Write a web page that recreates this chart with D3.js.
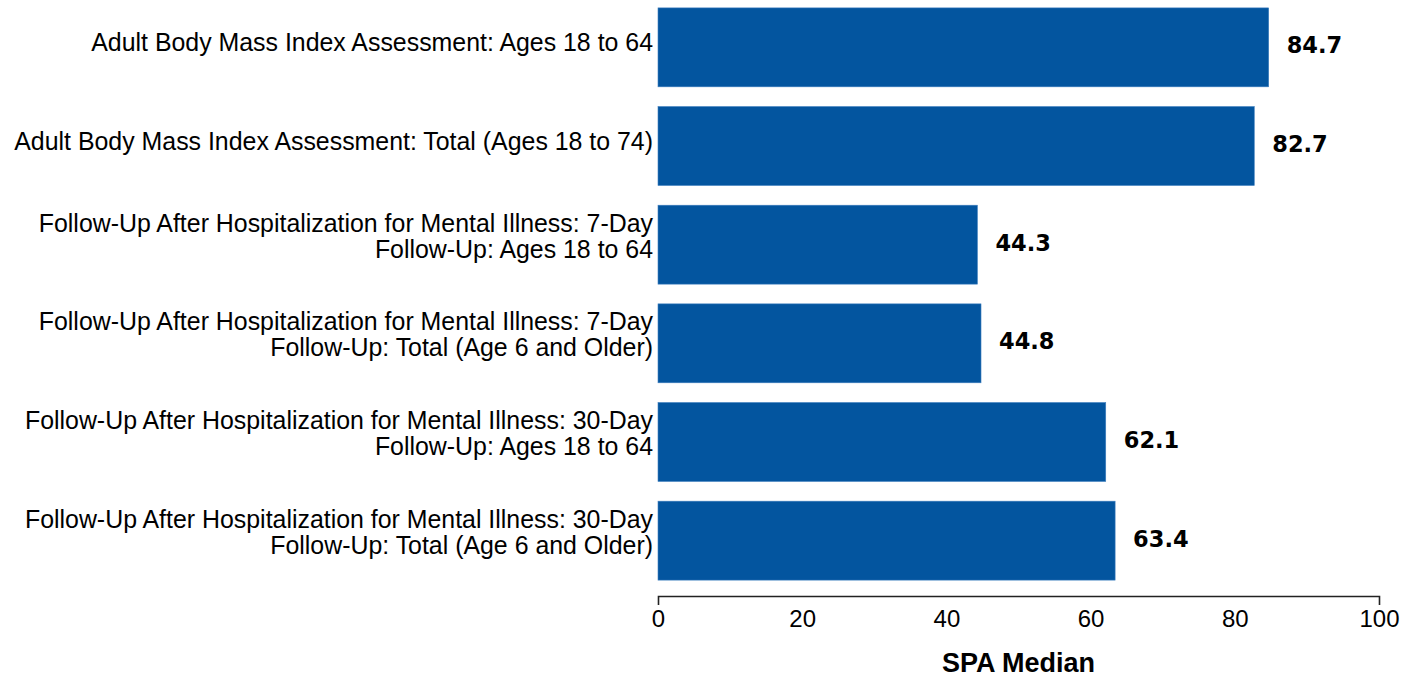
<!DOCTYPE html>
<html>
<head>
<meta charset="utf-8">
<script src="https://cdn.jsdelivr.net/npm/d3@7"></script>
<style>
    body { margin: 0; background: #ffffff; }
</style>
</head>
<body>
<div id="chart"></div>
<script>
// measure names, split in the lines they are drawn on
var measures = [
    ["Adult Body Mass Index Assessment: Ages 18 to 64"],
    ["Adult Body Mass Index Assessment: Total (Ages 18 to 74)"],
    ["Follow-Up After Hospitalization for Mental Illness: 7-Day", "Follow-Up: Ages 18 to 64"],
    ["Follow-Up After Hospitalization for Mental Illness: 7-Day", "Follow-Up: Total (Age 6 and Older)"],
    ["Follow-Up After Hospitalization for Mental Illness: 30-Day", "Follow-Up: Ages 18 to 64"],
    ["Follow-Up After Hospitalization for Mental Illness: 30-Day", "Follow-Up: Total (Age 6 and Older)"]
];
var spaMedian = [84.7, 82.7, 44.3, 44.8, 62.1, 63.4];
var xTicks = [0, 20, 40, 60, 80, 100];
var xTitle = "SPA Median";

(function () {

    var margin = {top: 0, right: 23, bottom: 89, left: 658},
        width = 1402 - margin.left - margin.right,
        height = 677 - margin.top - margin.bottom;

    var data = measures.map(function (m, i) {
        return {key: "m" + i, lines: m, value: spaMedian[i]};
    });

    var x = d3.scaleLinear()
        .domain([0, 100])
        .range([0, width]);

    var y = d3.scaleBand()
        .domain(data.map(function (d) { return d.key; }))
        .range([0, 588])
        .paddingInner(0.2)
        .paddingOuter(0.08);

    var svg = d3.select("#chart").append("svg")
        .attr("width", 1402)
        .attr("height", 677)
        .append("g")
        .attr("transform", "translate(" + margin.left + "," + margin.top + ")");

    // bars
    svg.selectAll(".bar")
        .data(data)
        .enter().append("rect")
        .attr("class", "bar")
        .attr("x", x(0))
        .attr("y", function (d) { return y(d.key); })
        .attr("width", function (d) { return x(d.value) - x(0); })
        .attr("height", y.bandwidth())
        .attr("fill", "#03559f")
        .attr("stroke", "#3f7fbf")
        .attr("stroke-width", 0.6);

    // value labels
    svg.selectAll(".value")
        .data(data)
        .enter().append("text")
        .attr("class", "value")
        .attr("x", function (d) { return x(d.value) + 18; })
        .attr("y", function (d) { return y(d.key) + y.bandwidth() / 2 + 6; })
        .style("font-family", "DejaVu Sans, Verdana, sans-serif")
        .style("font-weight", "bold")
        .style("font-size", "22.5px")
        .style("fill", "#000")
        .text(function (d) { return d3.format(".1f")(d.value); });

    // category labels, one or two lines
    var labels = svg.selectAll(".label")
        .data(data)
        .enter().append("text")
        .attr("class", "label")
        .attr("text-anchor", "end")
        .style("font-family", "Liberation Sans, Arial, sans-serif")
        .style("font-size", "24.9px")
        .style("fill", "#000");

    labels.selectAll("tspan")
        .data(function (d) {
            var c = y(d.key) + y.bandwidth() / 2;
            var n = d.lines.length;
            return d.lines.map(function (t, j) {
                return {t: t, y: n == 1 ? c + 4 : c - 13 + j * 26};
            });
        })
        .enter().append("tspan")
        .attr("x", -5)
        .attr("y", function (d) { return d.y; })
        .text(function (d) { return d.t; });

    // x axis, only the end ticks are drawn
    var xAxis = d3.axisBottom(x)
        .tickValues(xTicks)
        .tickSizeInner(0)
        .tickSizeOuter(9)
        .tickPadding(14);

    var gx = svg.append("g")
        .attr("class", "xAxis")
        .attr("transform", "translate(0,596)")
        .call(xAxis);

    gx.select(".domain")
        .attr("stroke", "#222")
        .attr("stroke-width", 1.6);

    gx.selectAll("text")
        .style("font-family", "Liberation Sans, Arial, sans-serif")
        .style("font-size", "24px")
        .style("fill", "#000");

    // axis title
    svg.append("text")
        .attr("x", width / 2)
        .attr("y", 672)
        .attr("text-anchor", "middle")
        .style("font-family", "Liberation Sans, Arial, sans-serif")
        .style("font-weight", "bold")
        .style("font-size", "27px")
        .style("fill", "#000")
        .text(xTitle);

})();
</script>
</body>
</html>
